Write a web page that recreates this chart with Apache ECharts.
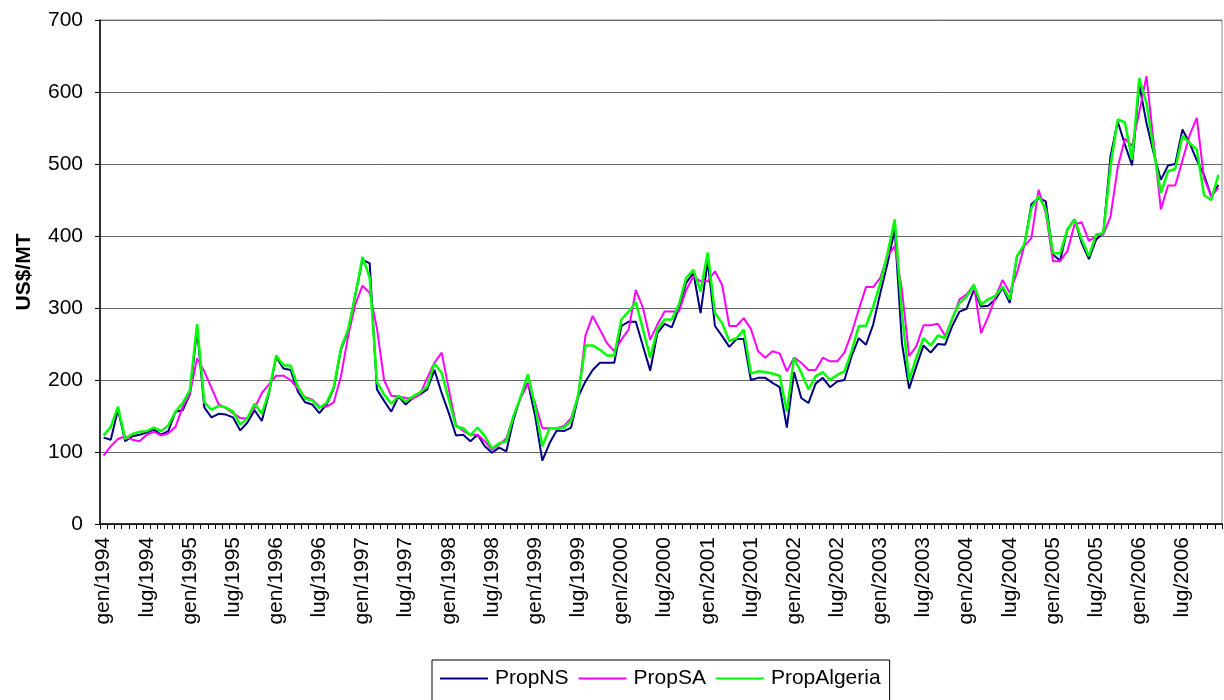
<!DOCTYPE html>
<html><head><meta charset="utf-8">
<script src="https://cdn.jsdelivr.net/npm/echarts@6/dist/echarts.min.js"></script>
<style>html,body{margin:0;padding:0;background:#fff}#c{width:1224px;height:700px}</style>
</head><body><div id="c"></div>
<script>
const monthNames = ['gen','feb','mar','apr','mag','giu','lug','ago','set','ott','nov','dic'];
const startYear = 1994;
const endYear = 2006;
const yTicks = [0,100,200,300,400,500,600,700];
const seriesNames = ['PropNS','PropSA','PropAlgeria'];

const propNS = [120,117,159,115,122,124,127,131,124,129,156,158,
180,270,162,148,153,152,148,130,141,158,143,182,
232,216,214,184,169,166,154,166,188,242,268,318,
367,362,187,171,156,177,166,175,180,187,214,182,
154,123,124,115,124,108,99,106,101,145,177,196,
150,88,112,130,129,134,177,198,214,224,224,224,
275,281,281,247,213,265,278,273,300,335,349,293,
365,275,261,246,257,257,200,203,203,196,190,134,
211,175,168,195,203,190,198,200,233,258,249,277,
321,362,409,251,188,219,248,238,250,249,275,295,
299,325,302,303,312,328,307,372,386,444,453,448,
374,366,409,423,390,368,395,404,511,559,527,498,
610,557,515,478,498,500,548,529,505,485,455,471];

const propSA = [95,108,118,122,117,115,124,128,123,126,135,163,
181,230,212,189,166,161,154,147,147,161,182,194,
206,206,200,188,176,173,163,163,169,205,261,305,
331,321,272,200,178,177,175,174,180,203,224,238,
187,138,129,124,124,115,103,110,119,150,175,195,
168,133,133,133,136,147,177,262,289,270,251,240,
256,270,325,300,256,277,295,295,295,325,344,337,
337,351,332,275,275,286,271,240,231,240,237,212,
231,224,214,214,231,226,226,238,265,298,329,329,
342,372,386,325,233,247,276,276,278,261,284,312,
319,332,265,288,315,339,321,349,386,397,464,432,
365,365,379,416,419,393,400,402,427,495,535,525,
572,622,530,437,470,470,505,540,564,480,455,467];

const propAlgeria = [123,135,163,118,125,128,129,134,129,137,156,168,
186,278,169,159,164,162,156,138,147,167,153,184,
234,220,220,191,174,172,161,168,190,244,270,318,
371,342,197,180,167,178,170,177,183,191,223,210,
173,135,133,123,134,122,105,112,115,150,177,208,
163,108,133,133,134,143,180,248,248,242,234,234,
284,295,308,270,231,270,284,284,305,342,353,323,
377,293,279,254,258,270,209,212,211,209,206,156,
231,210,187,205,211,200,207,212,240,275,275,302,
335,376,423,293,200,231,258,248,262,258,286,307,
316,332,305,312,317,330,312,372,388,439,455,437,
376,376,409,423,395,372,402,404,497,562,558,506,
619,585,520,460,490,493,539,529,520,457,450,485];

const categories = [];
for (let y = startYear; y <= endYear; y++) {
  for (let m = 0; m < 12; m++) categories.push(monthNames[m] + '/' + y);
}

const font = 'Liberation Sans, Arial, sans-serif';
const chart = echarts.init(document.getElementById('c'), null, {renderer: 'canvas'});
chart.setOption({
  animation: false,
  backgroundColor: '#ffffff',
  grid: {left: 100, right: 2, top: 20, bottom: 176, show: true, borderColor: '#888', borderWidth: 1},
  legend: {
    data: seriesNames,
    left: 432, top: 660,
    orient: 'horizontal',
    icon: 'rect',
    borderColor: '#000', borderWidth: 1,
    padding: [8, 9, 16, 8],
    itemWidth: 48, itemHeight: 2, itemGap: 10,
    textStyle: {fontFamily: font, fontSize: 21, color: '#000', padding: [0, 0, 0, 2]}
  },
  xAxis: {
    type: 'category', data: categories, boundaryGap: true,
    axisLine: {lineStyle: {color: '#000', width: 1.5}},
    axisTick: {show: true, interval: 0, length: 5, lineStyle: {color: '#000'}},
    axisLabel: {interval: 5, rotate: 90, margin: 13, fontFamily: font, fontSize: 21, color: '#000'},
    splitLine: {show: false}
  },
  yAxis: {
    type: 'value', min: yTicks[0], max: yTicks[yTicks.length-1], interval: 100,
    name: 'US$/MT', nameLocation: 'middle', nameRotate: 90, nameGap: 65,
    nameTextStyle: {fontFamily: font, fontSize: 21, fontWeight: 'bold', color: '#000'},
    axisLine: {show: true, lineStyle: {color: '#000', width: 1.5}},
    axisTick: {show: true, length: 5, lineStyle: {color: '#000'}},
    axisLabel: {margin: 17, fontFamily: font, fontSize: 21, color: '#000'},
    splitLine: {show: true, lineStyle: {color: '#666', width: 1}}
  },
  series: [
    {name: seriesNames[0], type: 'line', data: propNS, symbol: 'none', lineStyle: {color: '#000080', width: 2}, itemStyle: {color: '#000080'}},
    {name: seriesNames[1], type: 'line', data: propSA, symbol: 'none', lineStyle: {color: '#ff00ff', width: 2}, itemStyle: {color: '#ff00ff'}},
    {name: seriesNames[2], type: 'line', data: propAlgeria, symbol: 'none', lineStyle: {color: '#00ff00', width: 2.5}, itemStyle: {color: '#00ff00'}}
  ]
});
</script></body></html>
